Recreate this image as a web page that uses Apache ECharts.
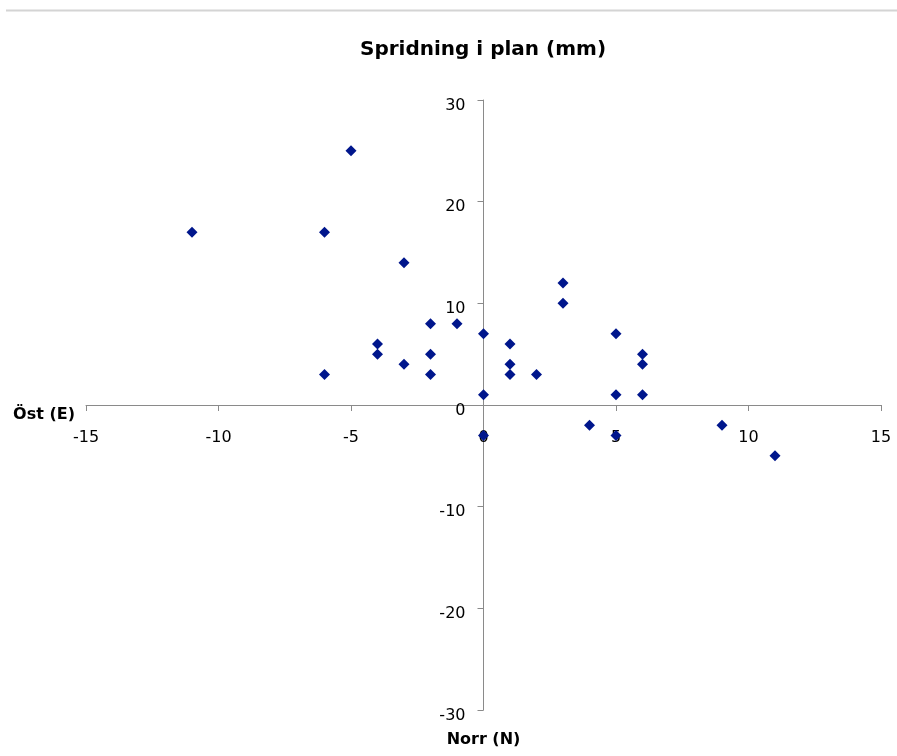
<!DOCTYPE html>
<html>
<head>
<meta charset="utf-8">
<script src="https://cdn.jsdelivr.net/npm/echarts@6/dist/echarts.min.js"></script>
<style>html,body{margin:0;padding:0;background:#fff;}#c{width:897px;height:756px;}</style>
</head>
<body>
<div id="c"></div>
<script>
const eastValues  = [-11, -6, -5, -3, -4, -4, -3, -2, -1, -2, -2, -6, 0, 0, 0, 1, 1, 1, 2, 3, 3, 4, 5, 5, 5, 6, 6, 6, 9, 11];
const northValues = [17, 17, 25, 14, 6, 5, 4, 8, 8, 5, 3, 3, 7, 1, -3, 6, 4, 3, 3, 12, 10, -2, 7, 1, -3, 5, 4, 1, -2, -5];
const titleText = 'Spridning i plan (mm)';
const xName = 'Öst (E)';
const yName = 'Norr (N)';

const points = eastValues.map((x, i) => [x, northValues[i]]);
const chart = echarts.init(document.getElementById('c'), null, {renderer: 'canvas'});
const font = '"DejaVu Sans", "Liberation Sans", Arial, sans-serif';

const gridLeft = 86, gridRight = 16, gridTop = 100, gridBottom = 46;
const W = 897, H = 756;
// place the axes through the zero point of the other axis
const plotW = W - gridLeft - gridRight, plotH = H - gridTop - gridBottom;
const xMin = -15, xMax = 15, yMin = -30, yMax = 30;
const yAxisOffset = -plotW * (0 - xMin) / (xMax - xMin);
const xAxisOffset = -plotH * (0 - yMin) / (yMax - yMin);

chart.setOption({
  animation: false,
  backgroundColor: '#fff',
  title: {
    text: titleText, left: 355, top: 35,
    textStyle: {fontFamily: font, fontSize: 20, fontWeight: 'bold', color: '#000'}
  },
  graphic: [{type: 'line', shape: {x1: 6, y1: 10.5, x2: 897, y2: 10.5}, style: {stroke: '#d4d4d4', lineWidth: 2}}],
  grid: {left: gridLeft, right: gridRight, top: gridTop, bottom: gridBottom, containLabel: false},
  xAxis: {
    type: 'value', min: xMin, max: xMax, interval: 5,
    position: 'bottom', offset: xAxisOffset,
    name: xName, nameLocation: 'start', nameGap: 11,
    nameTextStyle: {fontFamily: font, fontSize: 16, fontWeight: 'bold', color: '#000', verticalAlign: 'top', padding: [2, 0, 0, 0]},
    axisLine: {onZero: false, lineStyle: {color: '#8a8a8a', width: 1}},
    axisTick: {show: true, length: 6, lineStyle: {color: '#8a8a8a'}},
    axisLabel: {fontFamily: font, fontSize: 16, color: '#000', margin: 25, hideOverlap: false},
    splitLine: {show: false}
  },
  yAxis: {
    type: 'value', min: yMin, max: yMax, interval: 10,
    position: 'left', offset: yAxisOffset,
    name: yName, nameLocation: 'start', nameGap: 22,
    nameTextStyle: {fontFamily: font, fontSize: 16, fontWeight: 'bold', color: '#000'},
    axisLine: {onZero: false, lineStyle: {color: '#8a8a8a', width: 1}},
    axisTick: {show: true, length: 6, lineStyle: {color: '#8a8a8a'}},
    axisLabel: {fontFamily: font, fontSize: 16, color: '#000', margin: 18, verticalAlign: 'top', lineHeight: 11, hideOverlap: false},
    splitLine: {show: false}
  },
  series: [{
    type: 'scatter', data: points, symbol: 'diamond', symbolSize: 11,
    itemStyle: {color: '#00168c', opacity: 1}
  }]
});
</script>
</body>
</html>
